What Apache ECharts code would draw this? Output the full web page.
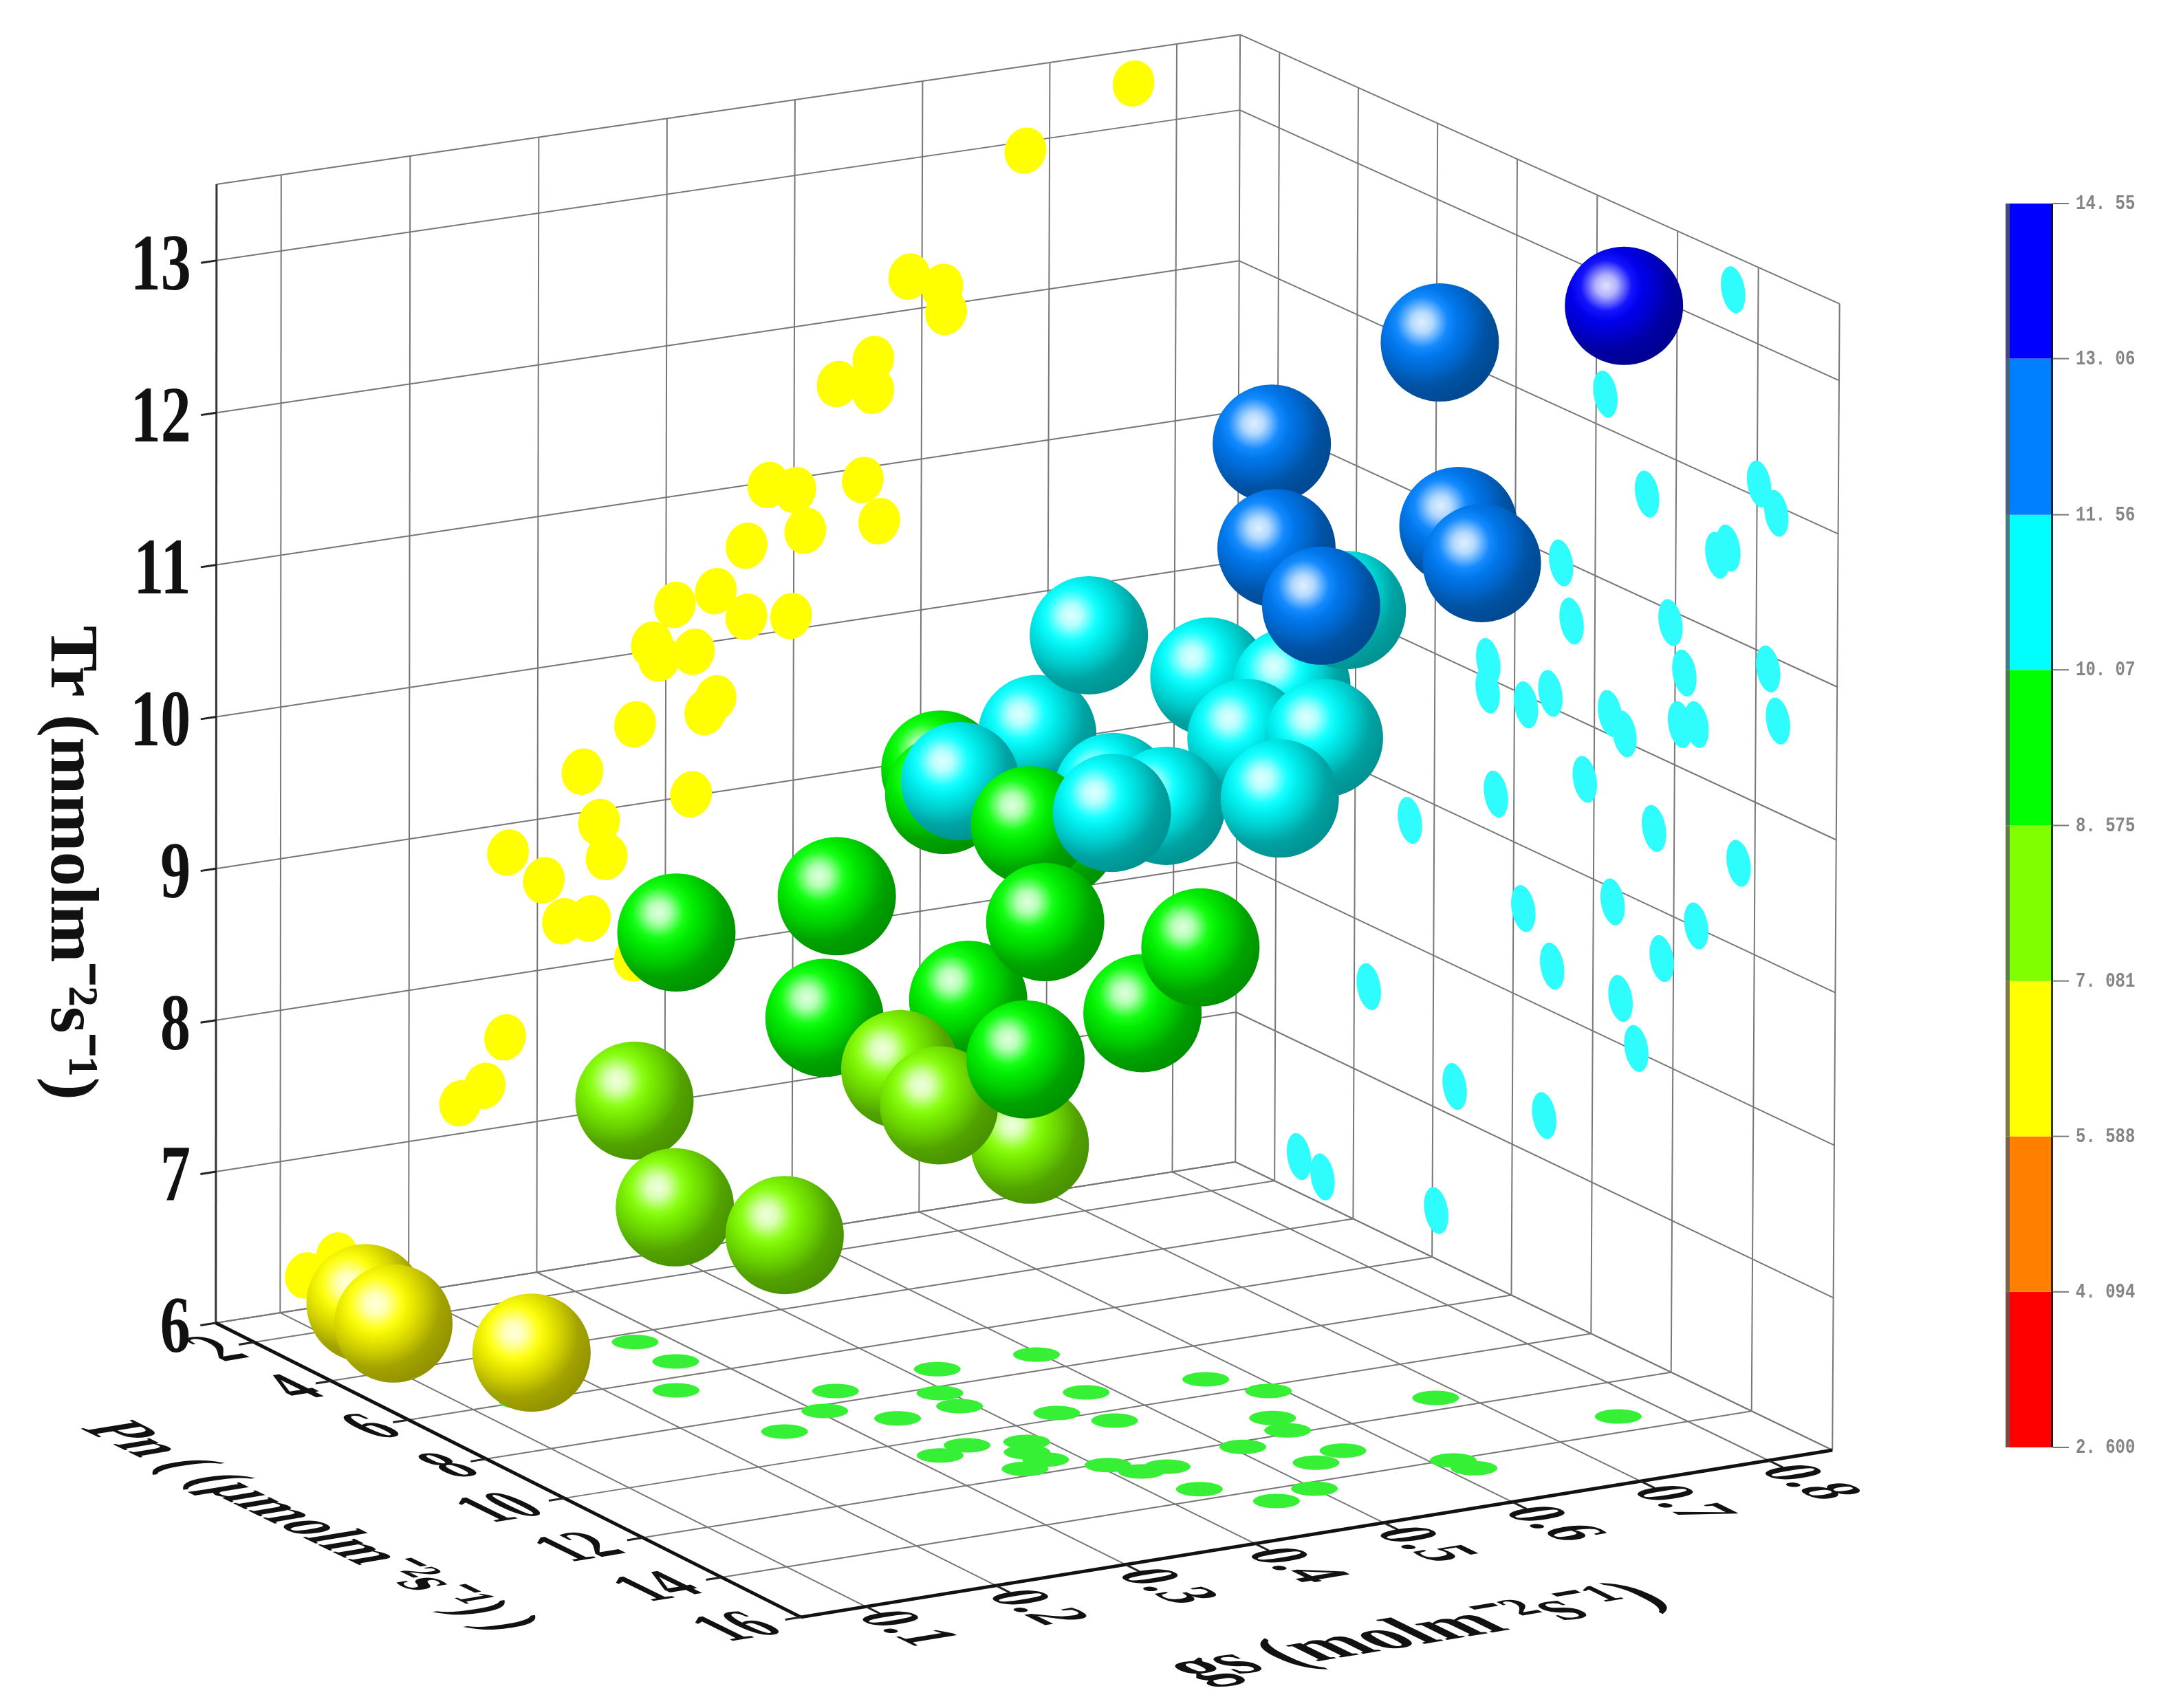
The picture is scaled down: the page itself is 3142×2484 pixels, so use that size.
<!DOCTYPE html>
<html><head><meta charset="utf-8"><script src="https://cdn.jsdelivr.net/npm/echarts@6/dist/echarts.min.js"></script>
<style>html,body{margin:0;background:#fff}#c{width:3142px;height:2484px}</style></head><body><div id="c"></div><script>
const pnTicks=[2,4,6,8,10,12,14,16];
const gsTicks=[0.1,0.2,0.3,0.4,0.5,0.6,0.7,0.8];
const trTicks=[6,7,8,9,10,11,12,13];
const pnRange=[1,16],gsRange=[0.05,0.85],trRange=[6,13.5];
const legendBounds=[2.6,4.094,5.588,7.081,8.575,10.07,11.56,13.06,14.55];
const legendLabels=['2. 600','4. 094','5. 588','7. 081','8. 575','10. 07','11. 56','13. 06','14. 55'];
const legendColors=['#ff0000','#ff8000','#ffff00','#80ff00','#00ff00','#00ffff','#0080ff','#0000ff'];
const ballPn=[2.65,3.74,6.04,4.34,6.47,8.78,5.34,7.56,8.27,10.44,9.02,11.00,10.69,11.76,12.59,13.55,7.21,8.32,7.42,9.17,8.72,8.82,10.47,10.68,11.53,9.43,12.13,12.20,12.52,12.16,14.39,14.58,12.96,10.20,11.26,13.12,14.03,14.68,11.60,13.37];
const ballGs=[.117,.106,.144,.275,.242,.257,.277,.334,.303,.348,.339,.379,.318,.352,.417,.432,.425,.394,.494,.480,.394,.467,.459,.388,.374,.566,.546,.509,.437,.406,.501,.461,.563,.590,.561,.538,.616,.614,.677,.765];
const ballTr=[6.25,6.27,6.32,7.59,7.20,7.29,8.82,9.26,8.59,8.92,8.30,8.00,8.30,8.69,9.01,9.54,9.93,9.94,10.10,10.98,10.08,9.63,10.14,10.04,9.53,10.63,10.92,10.64,10.33,10.28,10.92,10.60,11.50,12.22,11.70,11.58,12.11,11.95,12.94,13.28];
const yellowGs=[.766,.681,.590,.616,.619,.534,.562,.562,.554,.567,.480,.501,.509,.463,.439,.463,.498,.407,.389,.395,.422,.439,.431,.376,.335,.420,.348,.354,.277,.305,.320,.341,.376,.275,.259,.240,.120,.144];
const yellowTr=[13.28,12.94,12.22,12.12,11.95,11.58,11.71,11.50,10.92,10.63,10.98,10.92,10.64,10.60,10.33,10.13,10.09,10.28,10.04,9.94,9.95,9.62,9.54,9.53,9.27,9.01,8.92,8.68,8.81,8.59,8.30,8.29,7.98,7.59,7.29,7.20,6.22,6.32];
const cyanPn=[13.38,10.23,11.28,14.05,14.48,13.03,13.30,9.15,9.42,11.88,12.23,14.30,14.55,7.34,7.33,8.29,8.90,10.39,10.75,12.13,12.54,9.77,7.55,5.39,11.50,13.60,8.25,10.48,12.56,11.71,8.98,10.69,11.09,4.37,6.55,8.80,2.62,3.22,6.10];
const cyanTr=[13.28,12.22,11.69,12.09,11.95,11.50,11.58,10.98,10.63,10.92,10.63,10.91,10.60,10.11,9.92,9.94,10.09,10.14,10.05,10.28,10.33,9.63,9.26,8.82,9.52,9.55,8.59,8.91,9.01,8.69,8.30,8.30,8.02,7.59,7.20,7.29,6.24,6.18,6.32];
const greenPn=[4.37,5.38,6.51,6.00,7.36,7.31,7.53,8.26,9.14,8.89,8.24,8.79,8.98,9.76,10.41,9.38,10.22,11.53,13.38,11.29,11.86,12.22,12.99,13.28,10.45,10.68,10.69,11.09,11.49,11.72,12.09,12.54,12.51,13.58,14.27,14.51,14.05,14.47];
const greenGs=[.275,.276,.242,.138,.497,.421,.335,.394,.481,.390,.305,.257,.339,.439,.464,.567,.590,.680,.765,.560,.554,.508,.562,.532,.348,.320,.387,.375,.377,.354,.407,.419,.440,.432,.500,.463,.615,.618];

// camera: solved from where the frame's corners sit in the picture
const frameCalibration=[[1,.05,6,315,1922],[1,.05,13.5,315,267],[1,.05,13,315,380],[1,.05,12,315,601.5],[1,.05,11,315,822.4],[16,.05,6,1161,2350],[16,.85,6,2663,2110],[1,.85,6,1796,1690],[1,.85,13.5,1804,49],[1,.85,13,1803,159.5],[1,.85,12,1802,380],[16,.85,13.5,2674,441],[16,.85,13,2673.5,554],[16,.85,12,2672,777],[1,.1,13.5,408,254],[4,.05,6,481,2010],[8,.05,6,705,2122],[12,.05,6,933,2236],[16,.2,6,1452,2307],[16,.4,6,1830,2245],[16,.6,6,2197,2182],[16,.8,6,2574,2125],[4,.85,6,1967,1772],[8,.85,6,2197,1884],[12,.85,6,2428,1996]];
const nX=p=>(p-pnRange[0])/(pnRange[1]-pnRange[0]),nY=g=>(g-gsRange[0])/(gsRange[1]-gsRange[0]),nZ=t=>(t-trRange[0])/(trRange[1]-trRange[0]);
function solveCam(){const A=[],b=[];for(const [p,g,t,u,v] of frameCalibration){const X=nX(p),Y=nY(g),Z=nZ(t);A.push([X,Y,Z,1,0,0,0,0,-u*X,-u*Y,-u*Z]);b.push(u);A.push([0,0,0,0,X,Y,Z,1,-v*X,-v*Y,-v*Z]);b.push(v);}
const n=11,M=[];for(let i=0;i<n;i++){M.push(new Array(n+1).fill(0));for(let j=0;j<n;j++)for(let k=0;k<A.length;k++)M[i][j]+=A[k][i]*A[k][j]/1e6;for(let k=0;k<A.length;k++)M[i][n]+=A[k][i]*b[k]/1e6;}
for(let i=0;i<n;i++){let m=i;for(let r=i+1;r<n;r++)if(Math.abs(M[r][i])>Math.abs(M[m][i]))m=r;[M[i],M[m]]=[M[m],M[i]];for(let r=0;r<n;r++)if(r!==i){const f=M[r][i]/M[i][i];for(let c=i;c<=n;c++)M[r][c]-=f*M[i][c];}}
return M.map((r,i)=>r[n]/r[i]);}
const H=solveCam();
function proj(p,g,t){const X=nX(p),Y=nY(g),Z=nZ(t),w=H[8]*X+H[9]*Y+H[10]*Z+1;return [(H[0]*X+H[1]*Y+H[2]*Z+H[3])/w,(H[4]*X+H[5]*Y+H[6]*Z+H[7])/w];}

const P0=pnRange[0],P1=pnRange[1],G0=gsRange[0],G1=gsRange[1],T0=trRange[0],T1=trRange[1];
const segs=[];
function seg(a,b,w,c){const q=proj(a[0],a[1],a[2]),r=proj(b[0],b[1],b[2]);segs.push([q[0],q[1],r[0],r[1],w,c]);}
const GC='#777777',GW=2;
[...gsTicks,G1].forEach(g=>seg([P0,g,T0],[P1,g,T0],GW,GC));
[P0,...pnTicks].forEach(p=>seg([p,G0,T0],[p,G1,T0],GW,GC));
[...gsTicks,G1].forEach(g=>seg([P0,g,T0],[P0,g,T1],GW,GC));
[...trTicks,T1].forEach(t=>seg([P0,G0,t],[P0,G1,t],GW,GC));
[...pnTicks].forEach(p=>seg([p,G1,T0],[p,G1,T1],GW,GC));
[...trTicks,T1].forEach(t=>seg([P0,G1,t],[P1,G1,t],GW,GC));
seg([P0,G0,T0],[P0,G0,T1],3,'#333');
seg([P0,G0,T0],[P1,G0,T0],5,'#111');
seg([P1,G0,T0],[P1,G1,T0],5,'#111');
trTicks.forEach(t=>seg([P0,G0,t],[P0,G0-.012,t],3,'#222'));
pnTicks.forEach(p=>seg([p,G0,T0],[p,G0-.012,T0],3,'#222'));
gsTicks.forEach(g=>seg([P1,g,T0],[P1+.35,g,T0],3,'#222'));

const SERIF='"Liberation Serif"';
const FLOOR_A={rotation:9.4*Math.PI/180,skewX:54.5*Math.PI/180}; // baseline along gs axis, stems along pn axis
const FLOOR_B={rotation:-26.1*Math.PI/180,skewX:-54.5*Math.PI/180}; // baseline along pn axis, stems along gs axis
const texts=[];
trTicks.forEach(t=>{const q=proj(P0,G0,t);texts.push({x:q[0]-37,y:q[1]+12,text:String(t),align:'right',font:`bold 88px ${SERIF}`,scaleY:1.32});});
pnTicks.forEach(p=>{const q=proj(p,G0,T0),two=p>=10;texts.push({x:q[0]+(two?-89:-50),y:q[1]+(two?16:12),text:String(p),align:'center',font:`bold 100px ${SERIF}`,scaleX:.86,scaleY:.64,...FLOOR_A});});
gsTicks.forEach(g=>{const q=proj(P1,g,T0);texts.push({x:q[0]+56,y:q[1]+32,text:g.toFixed(1),align:'center',font:`bold 100px ${SERIF}`,scaleX:.82,scaleY:.62,...FLOOR_B});});
texts.push({x:101,y:1255,text:'Tr (mmolm\u207B\u00B2s\u207B\u00B9)',align:'center',font:`bold 100px ${SERIF}`,rotation:-Math.PI/2});
texts.push({x:448,y:2220,text:'Pn ( (\u03BCmolm\u207B\u00B2s\u207B\u00B9) )',align:'center',font:`bold 100px ${SERIF}`,scaleX:.85,scaleY:.68,...FLOOR_B});
texts.push({x:2060,y:2375,text:'gs (molm\u207B\u00B2s\u207B\u00B9)',align:'center',font:`bold 100px ${SERIF}`,scaleX:1.18,scaleY:.66,...FLOOR_A});

function rgb(h){return [1,3,5].map(i=>parseInt(h.substr(i,2),16));}
const mix=(a,b,f)=>a.map((v,i)=>Math.round(v+(b[i]-v)*f));
const css=c=>`rgb(${c[0]},${c[1]},${c[2]})`;
function ballFill(t){let k=legendColors.length-1;for(let i=0;i<legendColors.length;i++){if(t<legendBounds[i+1]){k=i;break;}}
 const c=rgb(legendColors[k]),blk=[0,0,0],wh=[255,255,255];
 return {type:'radial',x:.35,y:.33,r:.8,colorStops:[
  {offset:0,color:css(mix(c,wh,.88))},{offset:.11,color:css(mix(c,wh,.7))},{offset:.27,color:css(mix(c,wh,.08))},{offset:.38,color:css(mix(c,blk,.08))},
  {offset:.52,color:css(mix(c,blk,.2))},{offset:.68,color:css(mix(c,blk,.36))},{offset:.85,color:css(mix(c,blk,.42))},{offset:1,color:css(mix(c,blk,.44))}]};}

const ellipse=(rx,ry,rot,fill)=>(params,api)=>{const q=api.coord([api.value(0),api.value(1)]);return {type:'ellipse',x:q[0],y:q[1],rotation:rot,shape:{cx:0,cy:0,rx,ry},style:{fill}};};
const zip=(a,b,f)=>a.map((v,i)=>f(v,b[i]));
const legendRows=legendColors.map((c,i)=>[legendBounds[i],legendBounds[i+1],c]);

const ch=echarts.init(document.getElementById('c'));
ch.setOption({animation:false,backgroundColor:'#fff',
grid:[{left:0,right:0,top:0,bottom:0},{left:2916,top:296,width:69,height:1809}],
xAxis:[{type:'value',min:0,max:3142,show:false},{type:'value',gridIndex:1,min:0,max:1,show:false}],
yAxis:[{type:'value',min:0,max:2484,inverse:true,show:false},{type:'value',gridIndex:1,min:2.6,max:14.55,show:false}],
series:[
{type:'custom',z:1,clip:false,silent:true,data:segs,renderItem(params,api){const s=segs[params.dataIndex],a=api.coord([s[0],s[1]]),b=api.coord([s[2],s[3]]);return {type:'line',shape:{x1:a[0],y1:a[1],x2:b[0],y2:b[1]},style:{stroke:s[5],lineWidth:s[4]}};}},
{type:'custom',z:2,clip:false,silent:true,data:zip(yellowGs,yellowTr,(g,t)=>proj(P0,g,t)),renderItem:ellipse(30,34,-.28,'#ffff00')},
{type:'custom',z:2,clip:false,silent:true,data:zip(cyanPn,cyanTr,(p,t)=>proj(p,G1,t)),renderItem:ellipse(17,34.5,.17,'#2ffdfd')},
{type:'custom',z:2,clip:false,silent:true,data:zip(greenPn,greenGs,(p,g)=>proj(p,g,T0)),renderItem:ellipse(34,10.5,0,'#35f035')},
{type:'scatter',z:5,silent:true,symbol:'circle',symbolSize:172,clip:false,data:ballPn.map((p,i)=>({value:proj(p,ballGs[i],ballTr[i]),itemStyle:{color:ballFill(ballTr[i]),opacity:1}}))},
{type:'custom',z:6,clip:false,silent:true,data:texts.map((t,i)=>[0,i]),renderItem(params,api){const t=texts[params.dataIndex];return {type:'text',x:t.x,y:t.y,rotation:t.rotation||0,scaleX:t.scaleX||1,scaleY:t.scaleY||1,skewX:t.skewX||0,style:{text:t.text,font:t.font,fill:'#111',textAlign:t.align,textVerticalAlign:'middle',verticalAlign:'middle'}};}},
{type:'custom',z:3,xAxisIndex:1,yAxisIndex:1,clip:false,silent:true,data:legendRows.map(r=>[r[0],r[1]]),renderItem(params,api){const r=legendRows[params.dataIndex],a=api.coord([0,r[1]]),b=api.coord([1,r[0]]);return {type:'group',children:[
 {type:'rect',shape:{x:a[0],y:a[1],width:b[0]-a[0],height:b[1]-a[1]},style:{fill:r[2]}},
 {type:'rect',shape:{x:a[0],y:a[1],width:6,height:b[1]-a[1]},style:{fill:'rgba(90,90,90,.8)'}},
 {type:'rect',shape:{x:b[0]-3,y:a[1],width:3,height:b[1]-a[1]},style:{fill:'rgba(20,20,30,.85)'}}]};}},
{type:'custom',z:3,xAxisIndex:1,yAxisIndex:1,clip:false,silent:true,data:legendBounds.map(b=>[1,b]),renderItem(params,api){const q=api.coord([1,legendBounds[params.dataIndex]]);return {type:'group',children:[
 {type:'line',shape:{x1:q[0],y1:q[1],x2:q[0]+23,y2:q[1]},style:{stroke:'#777',lineWidth:2}},
 {type:'text',x:q[0]+33,y:q[1]+1,scaleY:1.2,style:{text:legendLabels[params.dataIndex],font:'bold 24px "Liberation Mono"',fill:'#858585',textAlign:'left',textVerticalAlign:'middle',verticalAlign:'middle'}}]};}}
]});
</script></body></html>
